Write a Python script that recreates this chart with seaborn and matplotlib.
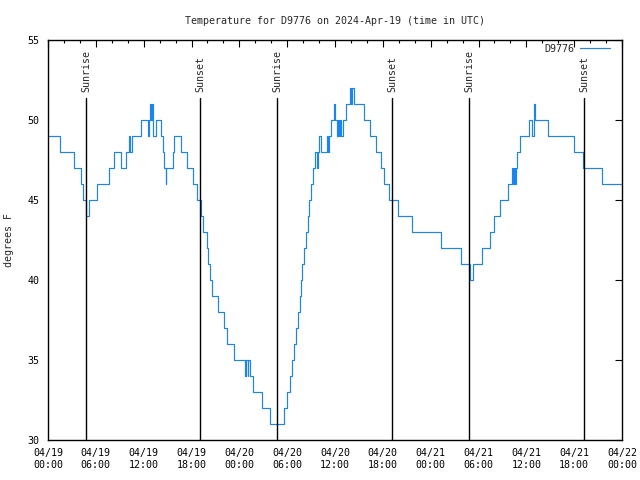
import numpy as np
import pandas as pd
import matplotlib
matplotlib.use("Agg")
import matplotlib.pyplot as plt
import matplotlib.dates as mdates
import matplotlib.transforms as mtrans
import seaborn as sns

# ---- data (hours after 2024-04-19 00:00 UTC, temperature in F) ----
hours = [0.0, 1.55, 3.2, 4.15, 4.4, 4.75, 5.2, 6.2, 7.65, 8.3, 9.1, 9.75, 10.15, 10.3,
         10.5, 11.7, 12.5, 12.65, 12.85, 12.95, 13.05, 13.15, 13.6, 14.2, 14.45, 14.55,
         14.75, 14.85, 15.65, 15.8, 16.7, 17.45, 18.2, 18.7, 19.2, 19.5, 19.9, 20.1, 20.3,
         20.55, 21.35, 22.05, 22.4, 23.35, 24.75, 24.85, 25.05, 25.1, 25.3, 25.75, 26.8,
         27.8, 29.65, 30.0, 30.3, 30.6, 30.85, 31.1, 31.3, 31.55, 31.75, 31.9, 32.1, 32.35,
         32.6, 32.8, 33.0, 33.2, 33.45, 33.75, 33.85, 34.05, 34.2, 34.95, 35.15, 35.25,
         35.5, 35.85, 35.95, 36.25, 36.35, 36.55, 36.65, 36.8, 37.05, 37.35, 37.85, 37.95,
         38.15, 38.35, 39.65, 40.45, 41.15, 41.75, 42.1, 42.8, 43.9, 45.7, 49.3, 51.75,
         52.95, 53.25, 54.45, 55.45, 55.9, 56.75, 57.75, 58.2, 58.35, 58.5, 58.6, 58.75,
         58.85, 59.15, 60.35, 60.65, 61.0, 61.1, 62.7, 66.0, 67.1, 69.55, 72.0]
temps = [49, 48, 47, 46, 45, 44, 45, 46, 47, 48, 47, 48, 49, 48,
         49, 50, 49, 50, 51, 50, 51, 49, 50, 49, 48, 47,
         46, 47, 48, 49, 48, 47, 46, 45, 44, 43, 42, 41, 40,
         39, 38, 37, 36, 35, 34, 35, 34, 35, 34, 33, 32,
         31, 32, 33, 34, 35, 36, 37, 38, 39, 40, 41, 42, 43,
         44, 45, 46, 47, 48, 47, 48, 49, 48, 49, 48, 49,
         50, 51, 50, 49, 50, 49, 50, 49, 50, 51, 52, 51,
         52, 51, 50, 49, 48, 47, 46, 45, 44, 43, 42, 41,
         40, 41, 42, 43, 44, 45, 46, 47, 46, 47, 46, 47,
         48, 49, 50, 49, 51, 50, 49, 48, 47, 46, 46]

sunrise_hours = [4.77, 28.73, 52.8]
sunset_hours = [19.07, 43.16, 67.25]

series_name = "D9776"
title_text = "Temperature for D9776 on 2024-Apr-19 (time in UTC)"
y_label = "degrees F"

base = pd.Timestamp("2024-04-19 00:00")
df = pd.DataFrame({"time": base + pd.to_timedelta(hours, unit="h"), "temp": temps})

sns.set_style("white")
plt.rcParams["font.family"] = ["DejaVu Sans Mono", "DejaVu Sans"]
FS = 7.2

fig = plt.figure(figsize=(6.4, 4.8), dpi=100)
ax = fig.add_axes([48 / 640, 1 - 440 / 480, 574 / 640, 400 / 480])

sns.lineplot(data=df, x="time", y="temp", drawstyle="steps-post", color="#1a84f0",
             lw=0.85, label=series_name, estimator=None, ax=ax)

# sunrise / sunset markers
trans = mtrans.blended_transform_factory(ax.transData, ax.transAxes)
for h in sunrise_hours:
    t = base + pd.Timedelta(hours=h)
    ax.axvline(t, ymin=0, ymax=0.856, color="black", lw=1.0)
    ax.text(t, 0.87, "Sunrise", rotation=90, ha="center", va="bottom",
            transform=trans, fontsize=FS)
for h in sunset_hours:
    t = base + pd.Timedelta(hours=h)
    ax.axvline(t, ymin=0, ymax=0.856, color="black", lw=1.0)
    ax.text(t, 0.87, "Sunset", rotation=90, ha="center", va="bottom",
            transform=trans, fontsize=FS)

ax.set_xlim(base, base + pd.Timedelta(hours=72))
ax.set_ylim(30, 55)
ax.set_yticks([30, 35, 40, 45, 50, 55])
ax.xaxis.set_major_locator(mdates.HourLocator(byhour=[0, 6, 12, 18]))
ax.xaxis.set_minor_locator(mdates.HourLocator(interval=2))
ax.xaxis.set_major_formatter(mdates.DateFormatter("%m/%d\n%H:%M"))

ax.tick_params(which="both", direction="in", top=True, right=True, colors="black",
               labelsize=FS, width=0.8)
ax.tick_params(which="major", length=5, pad=6)
ax.tick_params(which="minor", length=2.5)
for s in ax.spines.values():
    s.set_visible(True)
    s.set_color("black")
    s.set_linewidth(1.0)

ax.set_xlabel("")
ax.set_ylabel("")
fig.text(9 / 640, 0.5, y_label, rotation=90, ha="center", va="center", fontsize=FS)
ax.set_title(title_text, fontsize=FS, pad=11.5)

leg = ax.legend(loc="upper right", bbox_to_anchor=(0.979, 0.99), frameon=False,
                markerfirst=False, fontsize=FS, handlelength=3.0, borderaxespad=0.0,
                borderpad=0.0, handletextpad=0.6)

fig.savefig("out.png", dpi=100)
